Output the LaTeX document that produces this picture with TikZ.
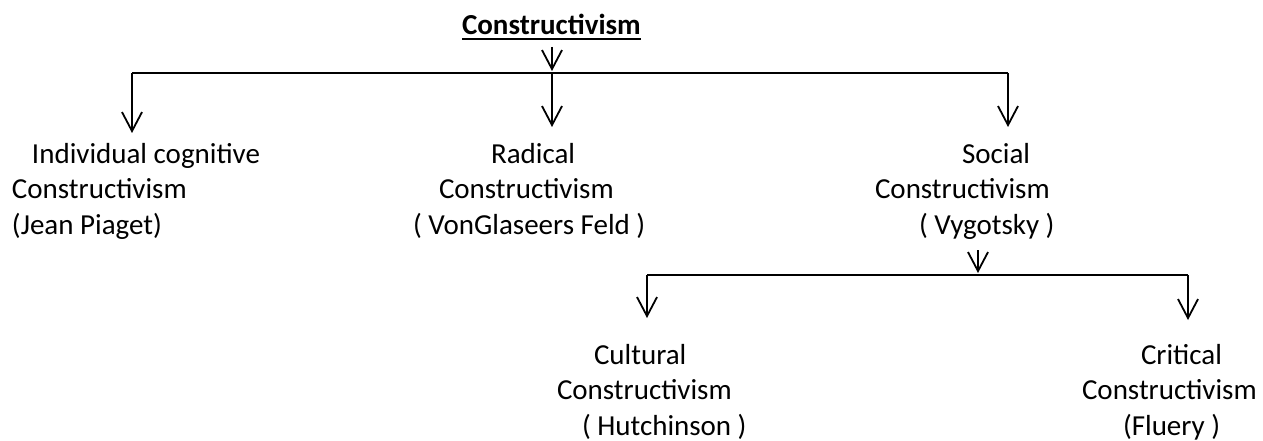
\documentclass[tikz,border=0pt]{standalone}
\usepackage{fontspec}
\setmainfont{Carlito}
\usetikzlibrary{arrows.meta}
\begin{document}
\begin{tikzpicture}[x=1pt,y=-1pt,
  lbl/.style={font=\fontsize{29}{35.5}\selectfont, inner sep=0pt, outer sep=0pt, align=left, anchor=base west},
  conn/.style={line width=1.8pt},
  arr/.style={conn, -{Straight Barb[length=19pt,width=20pt]}}]
\useasboundingbox[fill=white] (0,0) rectangle (1263,441);
% title
\node[lbl, font=\fontsize{29}{35.5}\selectfont\bfseries] (title) at (462,35) {Constructivism};
\draw[line width=1.8pt] ([yshift=-4pt]title.base west) -- ([yshift=-4pt]title.base east);
% items (anchor = baseline of last line)
\node[lbl] (ind) at (12,234) {\hspace*{20pt}Individual cognitive\\Constructivism\\(Jean Piaget)};
\node[lbl] (rad) at (413,234) {\hspace*{78pt}Radical\\\hspace*{26pt}Constructivism\\( VonGlaseers Feld )};
\node[lbl] (soc) at (875,234) {\hspace*{87pt}Social\\Constructivism\\\hspace*{44pt}( Vygotsky )};
\node[lbl] (cul) at (557,435) {\hspace*{37pt}Cultural\\Constructivism\\\hspace*{25pt}( Hutchinson )};
\node[lbl] (cri) at (1082,435) {\hspace*{59pt}Critical\\Constructivism\\\hspace*{41pt}(Fluery )};
% junctions
\coordinate (t0) at (552,47);
\coordinate (t1) at (552,71);
\coordinate (bl) at (132,73);
\coordinate (bm) at (552,73);
\coordinate (br) at (1008,73);
\coordinate (a1) at (132,133);
\coordinate (a2) at (552,127);
\coordinate (a3) at (1008,127);
\coordinate (s0) at (978,250);
\coordinate (s1) at (978,273);
\coordinate (cl) at (647,275);
\coordinate (cr) at (1188,275);
\coordinate (c1) at (647,318);
\coordinate (c2) at (1188,320);
% connectors
\draw[arr] (t0) -- (t1);
\draw[conn] (bl) -- (br);
\draw[arr] (bl) -- (a1);
\draw[arr] (bm) -- (a2);
\draw[arr] (br) -- (a3);
\draw[arr] (s0) -- (s1);
\draw[conn] (cl) -- (cr);
\draw[arr] (cl) -- (c1);
\draw[arr] (cr) -- (c2);
\end{tikzpicture}
\end{document}
